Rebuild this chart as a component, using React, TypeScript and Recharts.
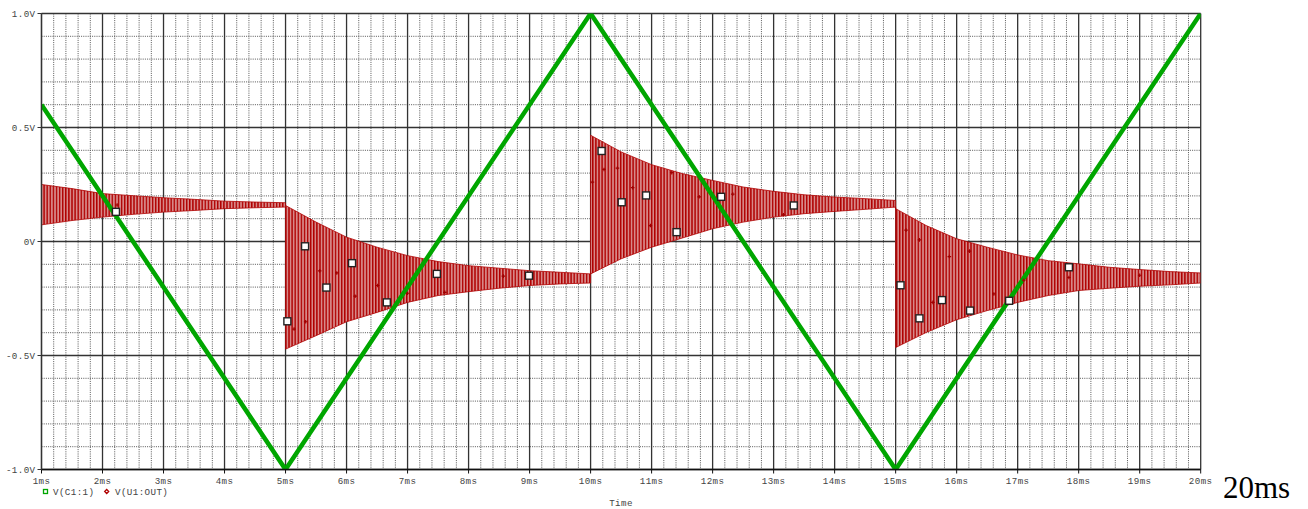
import React from "react";
import {
  Area, CartesianGrid, ComposedChart, Line, Scatter, XAxis, YAxis
} from "recharts";

// axis ticks
const timeTicks = [1, 2, 3, 4, 5, 6, 7, 8, 9, 10, 11, 12, 13, 14, 15, 16, 17, 18, 19, 20];
const timeLabels = ["1ms", "2ms", "3ms", "4ms", "5ms", "6ms", "7ms", "8ms", "9ms", "10ms",
  "11ms", "12ms", "13ms", "14ms", "15ms", "16ms", "17ms", "18ms", "19ms", "20ms"];
const voltTicks = [-1, -0.5, 0, 0.5, 1];
const voltLabels = ["-1.0V", "-0.5V", "0V", "0.5V", "1.0V"];

// V(C1:1) - triangle wave corners
const triTime = [1, 5, 10, 15, 20];
const triVolt = [0.6, -1, 1, -1, 1];

// V(U1:OUT) - ringing envelope (upper / lower peaks)
const outTime = [
  1, 1.5, 2, 2.5, 3, 3.5, 4, 4.5, 5,
  5, 5.5, 6, 6.5, 7, 7.5, 8, 8.5, 9, 9.5, 10,
  10, 10.5, 11, 11.5, 12, 12.5, 13, 13.5, 14, 14.5, 15,
  15, 15.5, 16, 16.5, 17, 17.5, 18, 18.5, 19, 19.5, 20,
];
const outHigh = [
  0.25, 0.232, 0.21, 0.201, 0.192, 0.185, 0.177, 0.173, 0.17,
  0.158, 0.085, 0.019, -0.025, -0.062, -0.088, -0.106, -0.117, -0.128, -0.135, -0.142,
  0.466, 0.393, 0.337, 0.298, 0.268, 0.239, 0.22, 0.205, 0.195, 0.188, 0.18,
  0.144, 0.07, 0.012, -0.025, -0.059, -0.084, -0.098, -0.113, -0.123, -0.132, -0.138,
];
const outLow = [
  0.073, 0.092, 0.107, 0.119, 0.129, 0.136, 0.144, 0.148, 0.151,
  -0.472, -0.413, -0.352, -0.311, -0.267, -0.237, -0.22, -0.205, -0.193, -0.186, -0.182,
  -0.142, -0.076, -0.025, 0.015, 0.056, 0.085, 0.107, 0.122, 0.132, 0.141, 0.151,
  -0.465, -0.399, -0.343, -0.303, -0.267, -0.237, -0.215, -0.205, -0.196, -0.19, -0.182,
];

// trace markers (white squares)
const markTime = [2.22, 5.03, 5.32, 5.67, 6.09, 6.66, 7.48, 8.99, 10.18, 10.51, 10.91,
  11.41, 12.14, 13.33, 15.08, 15.39, 15.76, 16.22, 16.86, 17.84];
const markVolt = [0.13, -0.35, -0.021, -0.202, -0.095, -0.267, -0.142, -0.15, 0.397, 0.172, 0.202,
  0.041, 0.196, 0.158, -0.192, -0.337, -0.257, -0.303, -0.26, -0.113];

// small red point symbols on V(U1:OUT)
const dotTime = [2.24, 5.14, 5.33, 5.56, 5.84, 6.14, 6.51, 7.0, 7.61, 8.57, 10.03, 10.22, 10.44,
  10.69, 10.98, 11.33, 11.78, 12.33, 13.16, 15.17, 15.39, 15.61, 15.88, 16.21, 16.61, 17.1, 17.84, 19.0];
const dotVolt = [0.16, -0.384, -0.352, -0.129, -0.138, -0.24, -0.193, -0.227, -0.223, -0.152, 0.26, 0.316, 0.322,
  0.236, 0.07, 0.302, 0.196, 0.208, 0.117, 0.05, 0.007, -0.267, -0.066, -0.042, -0.23, -0.17, -0.158, -0.148];

const triData = triTime.map((t, i) => ({ t, v: triVolt[i] }));
const outData = outTime.map((t, i) => ({ t, range: [outLow[i], outHigh[i]] }));
const markData = markTime.map((t, i) => ({ t, v: markVolt[i] }));
const dotData = dotTime.map((t, i) => ({ t, v: dotVolt[i] }));

// grid lines: majors at ticks, minors at 0.2ms / 0.1V
const minorTime: number[] = [];
for (let i = 5; i <= 100; i++) if (i % 5 !== 0) minorTime.push(i / 5);
const minorVolt: number[] = [];
for (let i = -10; i <= 10; i++) if (i % 5 !== 0) minorVolt.push(i / 10);

const MONO = "'Liberation Mono', 'DejaVu Sans Mono', monospace";
const tickStyle = { fill: "#444", fontSize: 9.2, fontFamily: MONO, letterSpacing: 0.4 };

const WhiteSquare = (props: any) => {
  const { cx, cy } = props;
  return <rect x={cx - 3.5} y={cy - 3.5} width={7} height={7} fill="#fff" stroke="#222" strokeWidth={1.4} />;
};

const RedMark = (props: any) => {
  const { cx, cy } = props;
  return <path d={`M${cx - 1.8},${cy} H${cx + 1.8} M${cx},${cy - 1.8} V${cy + 1.8}`} stroke="#a00000" strokeWidth={1.2} />;
};

export default function App() {
  return (
    <div style={{ position: "absolute", left: 0, top: 0, width: 1308, height: 509, background: "#fff" }}>
      <ComposedChart
        width={1308}
        height={509}
        margin={{ top: 13.5, right: 107.3, bottom: 19.5, left: 0 }}
      >
        <defs>
          <pattern id="ringing" patternUnits="userSpaceOnUse" width={3.1} height={10}>
            <rect width={3.1} height={10} fill="#d78888" />
            <rect width={1.4} height={10} fill="#b00000" />
          </pattern>
        </defs>
        <CartesianGrid
          verticalValues={minorTime}
          horizontalValues={minorVolt}
          stroke="#555"
          strokeDasharray="1 1.2"
        />
        <CartesianGrid
          verticalValues={timeTicks}
          horizontalValues={voltTicks}
          stroke="#333"
          strokeWidth={1.3}
        />
        <XAxis
          dataKey="t"
          type="number"
          domain={[1, 20]}
          ticks={timeTicks}
          interval={0}
          allowDataOverflow
          height={20}
          tickSize={4}
          tickMargin={4}
          tick={tickStyle}
          tickFormatter={(v: number, i: number) => timeLabels[i]}
          axisLine={{ stroke: "#111", strokeWidth: 1.6 }}
          tickLine={{ stroke: "#111" }}
        />
        <YAxis
          type="number"
          domain={[-1, 1]}
          ticks={voltTicks}
          interval={0}
          allowDataOverflow
          width={41.5}
          tickSize={4}
          tickMargin={2}
          tick={tickStyle}
          tickFormatter={(v: number, i: number) => voltLabels[i]}
          axisLine={{ stroke: "#333", strokeWidth: 1.3 }}
          tickLine={{ stroke: "#333" }}
        />
        <Area
          data={outData}
          dataKey="range"
          type="linear"
          fill="url(#ringing)"
          fillOpacity={1}
          stroke="#b00000"
          strokeWidth={0.8}
          isAnimationActive={false}
        />
        <Scatter data={dotData} dataKey="v" shape={RedMark} isAnimationActive={false} />
        <Line
          data={triData}
          dataKey="v"
          type="linear"
          stroke="#00a600"
          strokeWidth={4.5}
          strokeLinejoin="miter"
          dot={false}
          isAnimationActive={false}
        />
        <Scatter data={markData} dataKey="v" shape={WhiteSquare} isAnimationActive={false} />
      </ComposedChart>
      <svg
        width={1308}
        height={509}
        style={{ position: "absolute", left: 0, top: 0, pointerEvents: "none" }}
      >
        <rect x={43.5} y={489.5} width={4} height={4} fill="none" stroke="#00a600" strokeWidth={1.3} />
        <text x={53} y={495} fill="#444" fontSize={9.2} fontFamily={MONO} letterSpacing={0.4}>V(C1:1)</text>
        <path d="M104.7,491.5 L106.7,489.5 L108.7,491.5 L106.7,493.5 Z" fill="none" stroke="#b00000" strokeWidth={1.3} />
        <text x={115} y={495} fill="#444" fontSize={9.2} fontFamily={MONO} letterSpacing={0.4}>V(U1:OUT)</text>
        <text x={621} y={506} textAnchor="middle" fill="#444" fontSize={9.2} fontFamily={MONO} letterSpacing={0.4}>Time</text>
        <text x={1223} y={498} fill="#000" fontSize={31} fontFamily="'Liberation Serif', serif">20ms</text>
      </svg>
    </div>
  );
}
